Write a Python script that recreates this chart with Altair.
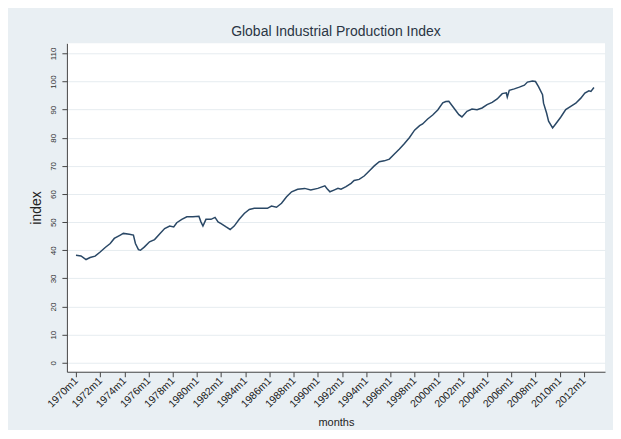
import altair as alt
import pandas as pd

months = ["1970m1", "1970m6", "1970m11", "1971m3", "1971m8", "1972m1", "1972m6", "1972m11",
          "1973m3", "1973m9", "1973m12", "1974m6", "1974m10", "1974m12", "1975m3", "1975m5",
          "1975m9", "1976m2", "1976m7", "1976m12", "1977m5", "1977m10", "1978m2", "1978m5",
          "1978m10", "1979m3", "1979m9", "1980m3", "1980m5", "1980m7", "1980m10", "1981m3",
          "1981m7", "1981m10", "1982m1", "1982m6", "1982m10", "1983m2", "1983m7", "1983m12",
          "1984m5", "1984m10", "1985m5", "1985m11", "1986m3", "1986m8", "1987m1", "1987m6",
          "1987m11", "1988m5", "1988m12", "1989m6", "1990m1", "1990m8", "1990m10", "1991m1",
          "1991m5", "1991m9", "1991m12", "1992m5", "1992m10", "1993m1", "1993m6", "1993m11",
          "1994m4", "1994m9", "1995m2", "1995m7", "1995m12", "1996m5", "1996m10", "1997m3",
          "1997m8", "1998m1", "1998m6", "1998m9", "1999m2", "1999m7", "1999m12", "2000m5",
          "2000m8", "2000m11", "2001m4", "2001m9", "2001m12", "2002m5", "2002m10", "2003m3",
          "2003m8", "2004m1", "2004m6", "2004m11", "2005m4", "2005m8", "2005m9", "2005m11",
          "2006m4", "2006m9", "2007m2", "2007m5", "2007m10", "2008m1", "2008m4", "2008m8",
          "2008m9", "2008m12", "2009m2", "2009m6", "2009m9", "2010m2", "2010m7", "2010m12",
          "2011m5", "2011m10", "2012m2", "2012m6", "2012m8", "2012m11"]
index_values = [38.2, 38.0, 36.7, 37.4, 37.9, 39.4, 41.0, 42.4,
                44.2, 45.4, 46.0, 45.7, 45.4, 42.4, 40.2, 40.0,
                41.2, 43.0, 43.8, 45.8, 47.7, 48.6, 48.3, 49.8,
                51.0, 51.9, 51.9, 52.1, 50.1, 48.6, 51.0, 51.0,
                51.7, 50.1, 49.5, 48.3, 47.4, 48.6, 51.0, 53.1,
                54.5, 54.9, 54.9, 54.9, 55.7, 55.3, 56.7, 59.0,
                60.8, 61.7, 62.0, 61.4, 62.0, 62.9, 62.0, 60.8,
                61.4, 62.0, 61.7, 62.6, 63.8, 64.8, 65.2, 66.4,
                68.2, 70.0, 71.5, 71.8, 72.4, 74.2, 76.0, 78.0,
                80.1, 82.7, 84.3, 84.9, 86.7, 88.1, 89.9, 92.4,
                92.9, 93.0, 90.6, 88.2, 87.4, 89.4, 90.2, 90.0,
                90.6, 91.8, 92.6, 93.8, 95.7, 96.0, 94.5, 96.9,
                97.4, 98.0, 98.7, 99.8, 100.2, 100.0, 98.2, 95.3,
                92.3, 88.8, 85.9, 83.5, 84.9, 87.3, 90.0, 91.2,
                92.3, 94.1, 95.9, 96.7, 96.5, 97.9]
y_ticks = [0, 10, 20, 30, 40, 50, 60, 70, 80, 90, 100, 110]
x_tick_years = list(range(1970, 2013, 2))


def month_index(s):
    y, m = s.split("m")
    return (int(y) - 1970) * 12 + int(m) - 1


df = pd.DataFrame({"t": [month_index(s) for s in months],
                   "label": months,
                   "value": index_values})

FONT = "Liberation Sans"

chart = alt.Chart(df).mark_line(color="#2a4866", strokeWidth=1.5).encode(
    x=alt.X("t:Q",
            scale=alt.Scale(domain=[-9, 525], nice=False, zero=False),
            axis=alt.Axis(values=[(y - 1970) * 12 for y in x_tick_years],
                          labelExpr="toString(1970 + round(datum.value/12)) + 'm1'",
                          labelAngle=-45, labelAlign="right", labelBaseline="middle",
                          labelPadding=2, labelFontSize=10.5, labelColor="#222222",
                          labelFont=FONT, labelOverlap=False,
                          tickSize=5, tickColor="#444444", domainColor="#444444",
                          grid=False, title="months", titleFont=FONT,
                          titleFontSize=11, titleFontWeight="normal",
                          titleColor="#222222", titlePadding=7)),
    y=alt.Y("value:Q",
            scale=alt.Scale(domain=[-3.2, 113.6], nice=False, zero=False),
            axis=alt.Axis(values=y_ticks, labelAngle=-90, labelAlign="center",
                          labelBaseline="bottom", labelPadding=4, labelFontSize=8,
                          labelColor="#333333", labelFont=FONT, labelOverlap=False,
                          tickSize=5, tickColor="#444444", domainColor="#444444",
                          grid=True, gridColor="#e6ecf0", gridWidth=1,
                          title="index", titleFont=FONT, titleFontSize=14,
                          titleFontWeight="normal", titleColor="#222222",
                          titlePadding=6)),
).properties(
    width=539,
    height=329,
    title=alt.TitleParams("Global Industrial Production Index", font=FONT,
                          fontSize=14, fontWeight="normal", color="#2a3544",
                          anchor="middle", offset=4),
    background="#e9eff3",
    padding={"left": 59, "top": 35, "right": 8, "bottom": 58},
    autosize=alt.AutoSizeParams(type="none"),
).configure_view(fill="white", stroke=None)

chart.save("out.html", embed_options={"renderer": "svg", "actions": False})
